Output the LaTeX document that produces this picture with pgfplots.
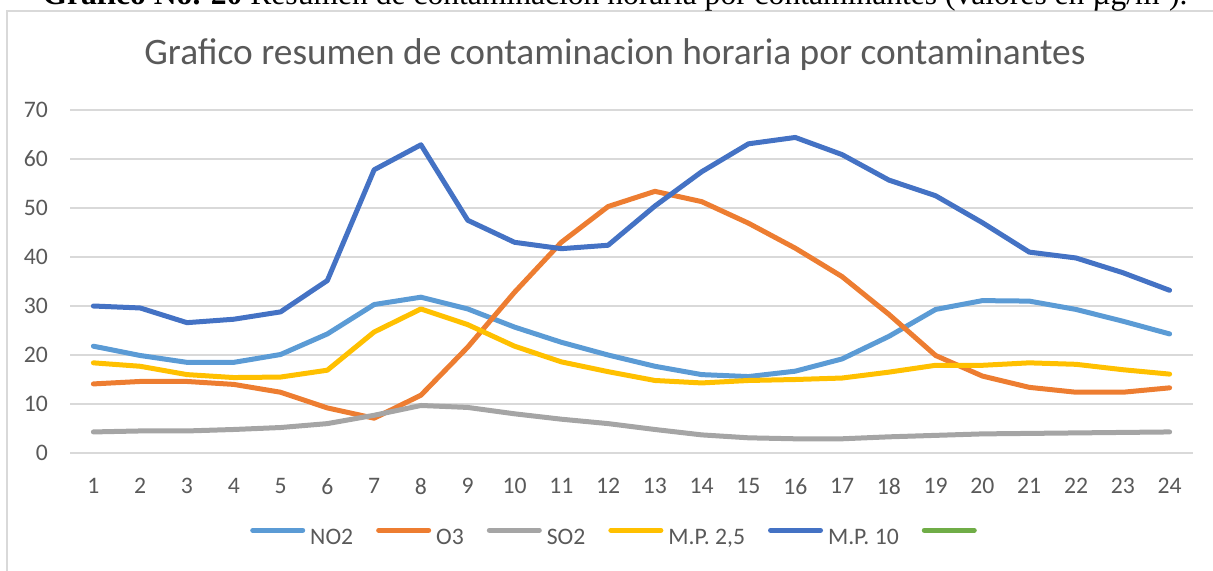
\documentclass[border=0pt]{standalone}
\usepackage{pgfplots}
\pgfplotsset{compat=1.18}
\usepackage{fontspec}
\setmainfont{Carlito}
\newfontfamily\serifcap{Liberation Serif}
\definecolor{textgray}{HTML}{595959}
\definecolor{gridgray}{HTML}{D9D9D9}
\definecolor{cNO}{HTML}{5B9BD5}
\definecolor{cO}{HTML}{ED7D31}
\definecolor{cSO}{HTML}{A5A5A5}
\definecolor{cPMb}{HTML}{FFC000}
\definecolor{cPMa}{HTML}{4472C4}
\definecolor{cG}{HTML}{70AD47}
\begin{document}
\begin{tikzpicture}[x=1bp,y=1bp]
\useasboundingbox (0,0) rectangle (1213,-571);
\clip (0,0) rectangle (1213,-571);
\draw[gridgray, line width=1.5bp] (7,-640) -- (7,-11) -- (1240,-11);
\node[anchor=base, inner sep=0pt, font=\serifcap\fontsize{31.7}{38}\selectfont] at (615,-5)
  {\textbf{Grafico No. 20} Resumen de contaminacion horaria por contaminantes (valores en µg/m³).};
\node[anchor=base, inner sep=0pt, text=textgray, font=\fontsize{37.5}{44}\selectfont] at (615,-65)
  {Grafico resumen de contaminacion horaria por contaminantes};
\begin{axis}[
  at={(70bp,-453bp)}, anchor=south west,
  scale only axis, width=1123bp, height=343bp,
  xmin=0.5, xmax=24.5, ymin=0, ymax=70,
  xtick={1,...,24}, ytick={0,10,...,70},
  axis line style={draw=none}, tick style={draw=none},
  ymajorgrids, grid style={gridgray, line width=2bp},
  /pgf/number format/assume math mode=true,
  tick label style={font=\fontsize{23.76}{28}\selectfont, text=textgray},
  yticklabel style={inner sep=0pt, anchor=east, xshift=-22bp},
  xticklabel style={inner sep=0pt, anchor=north, yshift=-25bp},
  clip=false,
  legend columns=6,
  legend style={at={(axis description cs:0.1603,-0.2449)}, anchor=west,
    draw=none, fill=none, inner sep=0pt,
    font=\fontsize{23.76}{28}\selectfont, text=textgray,
    nodes={inner sep=0pt},
    /tikz/every odd column/.append style={column sep=5bp},
    /tikz/every even column/.append style={column sep=23bp}},
  legend image code/.code={\draw[#1, line width=5bp, line cap=round] (2.5bp,7.5bp) -- (52.5bp,7.5bp);},
  every axis plot/.append style={line width=5bp, line join=round, line cap=round},
]
\addplot[cNO] coordinates {(1,21.8)(2,19.9)(3,18.5)(4,18.5)(5,20.1)(6,24.3)(7,30.3)(8,31.8)(9,29.4)(10,25.7)(11,22.6)(12,20.0)(13,17.7)(14,16.0)(15,15.6)(16,16.7)(17,19.2)(18,23.8)(19,29.3)(20,31.1)(21,31.0)(22,29.3)(23,26.9)(24,24.3)};
\addlegendentry{NO2}
\addplot[cO] coordinates {(1,14.1)(2,14.6)(3,14.6)(4,14.0)(5,12.4)(6,9.2)(7,7.1)(8,11.8)(9,21.6)(10,32.8)(11,43.0)(12,50.3)(13,53.4)(14,51.3)(15,46.9)(16,41.8)(17,36.0)(18,28.3)(19,19.9)(20,15.7)(21,13.4)(22,12.4)(23,12.4)(24,13.3)};
\addlegendentry{O3}
\addplot[cSO] coordinates {(1,4.3)(2,4.5)(3,4.5)(4,4.8)(5,5.2)(6,6.0)(7,7.7)(8,9.7)(9,9.3)(10,8.0)(11,6.9)(12,6.0)(13,4.8)(14,3.7)(15,3.1)(16,2.9)(17,2.9)(18,3.3)(19,3.6)(20,3.9)(21,4.0)(22,4.1)(23,4.2)(24,4.3)};
\addlegendentry{SO2}
\addplot[cPMb] coordinates {(1,18.4)(2,17.7)(3,16.0)(4,15.4)(5,15.5)(6,16.9)(7,24.7)(8,29.4)(9,26.2)(10,21.8)(11,18.6)(12,16.6)(13,14.8)(14,14.3)(15,14.8)(16,15.0)(17,15.3)(18,16.5)(19,17.9)(20,17.9)(21,18.4)(22,18.1)(23,17.0)(24,16.1)};
\addlegendentry{M.P. 2,5}
\addplot[cPMa] coordinates {(1,30.0)(2,29.6)(3,26.6)(4,27.3)(5,28.8)(6,35.2)(7,57.8)(8,62.9)(9,47.5)(10,43.0)(11,41.7)(12,42.4)(13,50.4)(14,57.4)(15,63.1)(16,64.4)(17,60.9)(18,55.7)(19,52.5)(20,47.0)(21,41.0)(22,39.8)(23,36.8)(24,33.2)};
\addlegendentry{M.P. 10}
\addlegendimage{cG, line width=5bp}
\addlegendentry{}
\end{axis}
\end{tikzpicture}
\end{document}
